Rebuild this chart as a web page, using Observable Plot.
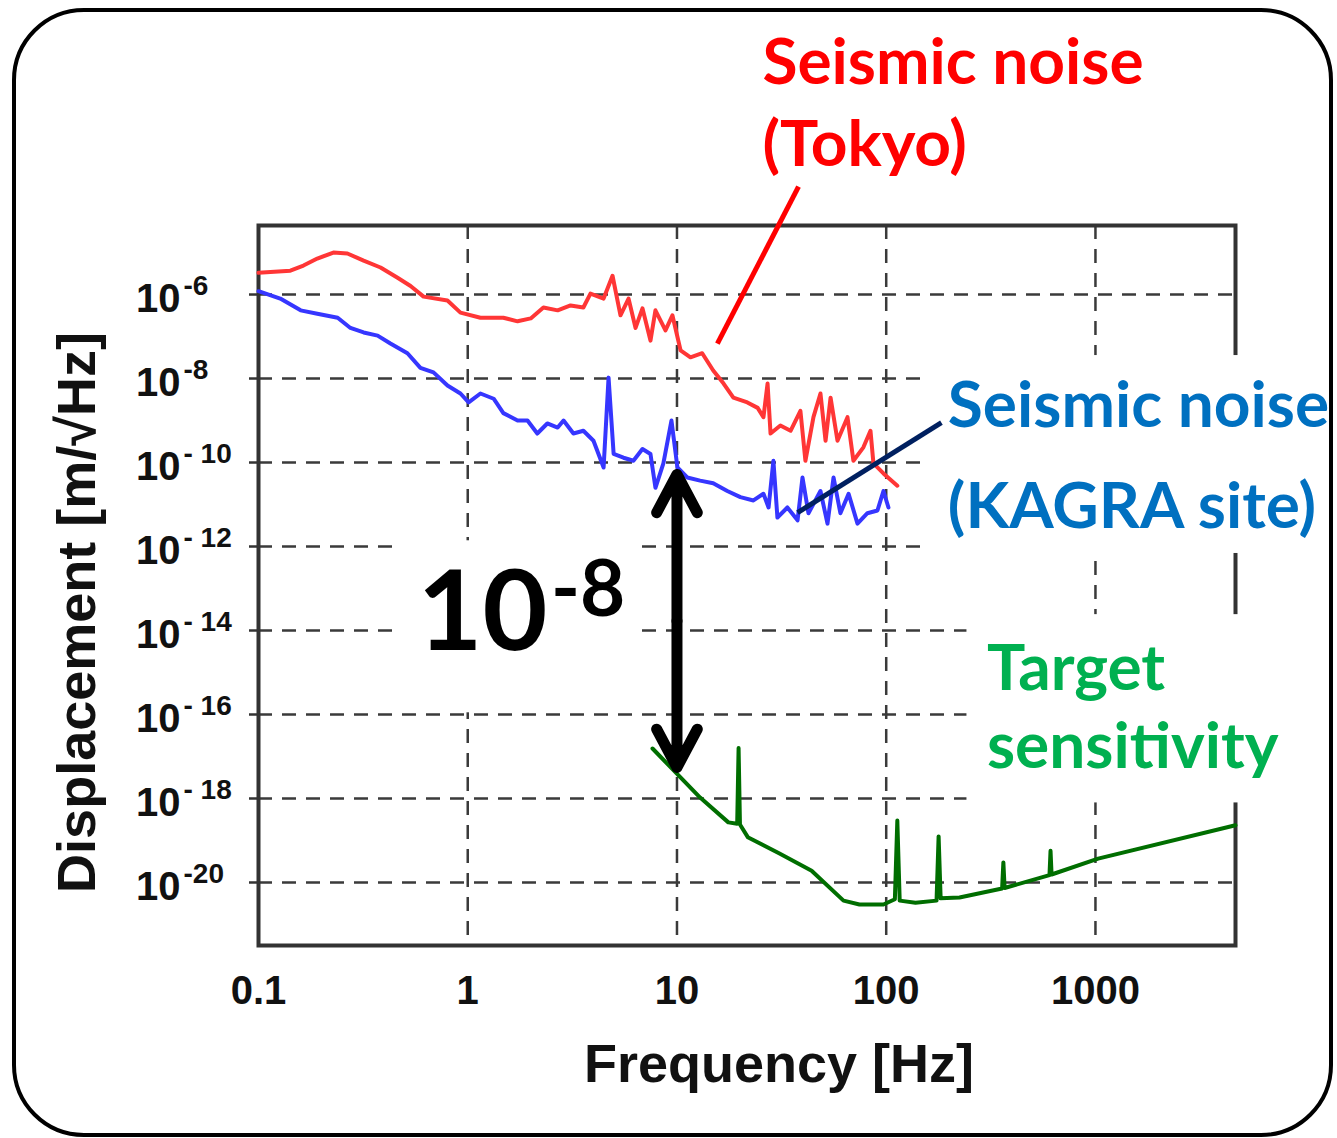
<!DOCTYPE html>
<html><head><meta charset="utf-8">
<script src="https://cdn.jsdelivr.net/npm/d3@7"></script>
<script src="https://cdn.jsdelivr.net/npm/@observablehq/plot@0.6"></script>
<style>
html,body{margin:0;padding:0;background:#fff;}
#wrap{position:relative;width:1337px;height:1138px;overflow:hidden;}
#border{position:absolute;left:12px;top:8px;width:1321px;height:1129px;box-sizing:border-box;border:4.5px solid #000;border-radius:72px;pointer-events:none;}
#chart{position:absolute;left:0;top:0;}
</style></head><body>
<div id="wrap"><div id="chart"></div><div id="border"></div></div>
<script>
// ---- axes ----
const xDomain = [0.1, 4670];
const yDomain = [3.16e-22, 4.4e-5];
const xTicks = [0.1, 1, 10, 100, 1000];
const xTickLabels = ["0.1", "1", "10", "100", "1000"];
const yTicks = [1e-6, 1e-8, 1e-10, 1e-12, 1e-14, 1e-16, 1e-18, 1e-20];
const yTickExponents = ["-6", "-8", "- 10", "- 12", "- 14", "- 16", "- 18", "-20"];

// ---- Seismic noise (Tokyo) ----
const tokyoFreq = [0.1, 0.142, 0.164, 0.191, 0.228, 0.266, 0.318, 0.383, 0.462, 0.533, 0.615, 0.80, 0.923, 1.15, 1.48, 1.73, 2.0, 2.30, 2.69, 3.10, 3.57, 3.86, 4.46, 4.92, 5.37, 5.87, 6.34, 6.84, 7.47, 7.89, 8.81, 9.51, 10.4, 11.6, 13.2, 14.9, 16.7, 18.6, 21.7, 24.3, 25.9, 27.1, 28.0, 31.2, 34.9, 38.9, 41.1, 44.9, 48.5, 51.3, 54.2, 58.5, 65.3, 69.7, 77.8, 84.1, 86.9, 97.0, 113];
const tokyoDisp = [3.3e-6, 3.7e-6, 4.9e-6, 7.2e-6, 1.0e-5, 9.5e-6, 6.4e-6, 4.4e-6, 2.5e-6, 1.6e-6, 8.9e-7, 7.2e-7, 3.7e-7, 2.8e-7, 2.8e-7, 2.3e-7, 2.7e-7, 4.9e-7, 4.2e-7, 5.5e-7, 4.9e-7, 1.05e-6, 8.0e-7, 2.8e-6, 3.2e-7, 8.0e-7, 1.6e-7, 4.7e-7, 8.0e-8, 4.2e-7, 1.4e-7, 3.2e-7, 4.7e-8, 3.2e-8, 4.0e-8, 1.55e-8, 7.6e-9, 3.5e-9, 2.7e-9, 2.0e-9, 1.2e-9, 7.6e-9, 4.9e-10, 7.6e-10, 5.7e-10, 1.7e-9, 1.1e-10, 1.2e-9, 4.4e-9, 3.3e-10, 3.5e-9, 3.3e-10, 1.2e-9, 1.1e-10, 2.3e-10, 5.7e-10, 9.5e-11, 5.5e-11, 2.8e-11];

// ---- Seismic noise (KAGRA site) ----
const kagraFreq = [0.1, 0.127, 0.159, 0.191, 0.239, 0.275, 0.318, 0.371, 0.427, 0.515, 0.594, 0.686, 0.80, 0.923, 1.01, 1.15, 1.33, 1.48, 1.73, 1.93, 2.15, 2.40, 2.69, 2.87, 3.20, 3.57, 3.99, 4.46, 4.71, 4.98, 5.55, 6.19, 6.84, 7.47, 7.89, 8.61, 9.41, 10.05, 11.2, 12.9, 14.9, 17.4, 20.1, 23.2, 25.9, 27.4, 28.9, 30.2, 33.7, 37.7, 39.8, 42.5, 48.5, 52.4, 56.0, 60.4, 66.1, 72.9, 81.3, 90.8, 97.0, 102.5];
const kagraDisp = [1.2e-6, 8.0e-7, 4.2e-7, 3.5e-7, 2.8e-7, 1.6e-7, 1.25e-7, 1.05e-7, 6.8e-8, 4.0e-8, 1.8e-8, 1.4e-8, 6.8e-9, 4.4e-9, 2.7e-9, 4.4e-9, 3.3e-9, 1.5e-9, 1.0e-9, 1.0e-9, 4.9e-10, 8.5e-10, 6.8e-10, 1.0e-9, 4.9e-10, 5.7e-10, 3.3e-10, 7.6e-11, 1.05e-8, 1.6e-10, 1.3e-10, 1.1e-10, 2.1e-10, 1.6e-10, 2.5e-11, 9.5e-11, 1.0e-9, 7.6e-11, 4.4e-11, 3.7e-11, 3.2e-11, 2.1e-11, 1.5e-11, 1.25e-11, 1.8e-11, 8.5e-12, 1.1e-10, 4.9e-12, 8.5e-12, 4.2e-12, 4.4e-11, 6.2e-12, 2.1e-11, 3.5e-12, 4.4e-11, 6.2e-12, 1.8e-11, 3.5e-12, 6.2e-12, 7.2e-12, 2.1e-11, 8.5e-12];

// ---- Target sensitivity ----
const targetFreq = [7.64, 10.2, 12.9, 17.6, 19.4, 19.7, 20.0, 21.8, 30.9, 44.0, 62.5, 74.5, 97, 110, 113, 116, 138, 174, 178, 182, 224, 358, 363, 368, 603, 610, 617, 1030, 4670];
const targetDisp = [1.55e-17, 3.5e-18, 1.05e-18, 2.7e-19, 2.5e-19, 1.6e-17, 2.4e-19, 1.2e-19, 4.9e-20, 1.9e-20, 3.7e-21, 3.0e-21, 3.0e-21, 4.0e-21, 3.0e-19, 3.7e-21, 3.3e-21, 3.7e-21, 1.25e-19, 4.2e-21, 4.4e-21, 7.2e-21, 3.0e-20, 7.4e-21, 1.5e-20, 5.7e-20, 1.55e-20, 3.7e-20, 2.3e-19];

// ---- annotations (data coordinates) ----
const tokyoLabel = [{text: "Seismic noise", freq: 25.6, disp: 0.31}, {text: "(Tokyo)", freq: 25.6, disp: 3.5e-3}];
const kagraLabel = [{text: "Seismic noise", freq: 197, disp: 2.15e-9}, {text: "(KAGRA site)", freq: 197, disp: 8.5e-12}];
const targetLabel = [{text: "Target", freq: 303, disp: 1.17e-15}, {text: "sensitivity", freq: 303, disp: 1.6e-17}];
const ratioBase = [{text: "10", freq: 0.575, disp: 2.5e-14}];
const ratioExp = [{text: "-8", freq: 2.5, disp: 8.9e-14}];
const tokyoPointer = [{freq1: 15.6, disp1: 6.8e-8, freq2: 38.1, disp2: 3.7e-4}];
const kagraPointer = [{freq1: 37.7, disp1: 6.4e-12, freq2: 183.6, disp2: 8.9e-10}];
const gapArrow = {freq: 10, upper: 5.2e-11, lower: 5.5e-18};

const tokyo = tokyoFreq.map((f, i) => ({freq: f, disp: tokyoDisp[i]}));
const kagra = kagraFreq.map((f, i) => ({freq: f, disp: kagraDisp[i]}));
const target = targetFreq.map((f, i) => ({freq: f, disp: targetDisp[i]}));
const gapMid = Math.sqrt(gapArrow.upper * gapArrow.lower);
const arrowParts = [{a: gapMid, b: gapArrow.upper}, {a: gapMid, b: gapArrow.lower}];
const boxOf = (lines) => [{x: lines[0].freq, y1: lines[0].disp, y2: lines[lines.length - 1].disp}];

const calibri = "Lato, 'Open Sans', sans-serif";
const arial = "'Liberation Sans', Arial, sans-serif";

const gridStyle = {stroke: "#3a3a3a", strokeWidth: 2.5, strokeDasharray: "14,10"};
const labelBase = {x: "freq", y: "disp", text: "text", textAnchor: "start", fontFamily: calibri, fontWeight: "bold"};
const boxBase = {x1: "x", x2: "x", y1: "y1", y2: "y2", fill: "white"};

const chart = Plot.plot({
  width: 1337, height: 1138,
  marginLeft: 258, marginRight: 102, marginTop: 225, marginBottom: 193,
  style: {background: "transparent", overflow: "visible"},
  x: {type: "log", domain: xDomain, axis: null},
  y: {type: "log", domain: yDomain, axis: null},
  marks: [
    Plot.ruleY(yTicks, {y: d => d, ...gridStyle}),
    Plot.ruleX(xTicks, {x: d => d, ...gridStyle}),
    Plot.frame({stroke: "#333", strokeWidth: 4}),
    // small outward ticks on the left edge
    Plot.ruleY(yTicks, {y: d => d, x1: () => xDomain[0], x2: () => xDomain[0], insetLeft: -9, stroke: "#333", strokeWidth: 2.5}),
    // white text boxes of the annotations
    Plot.rect(boxOf(ratioBase), {...boxBase, insetLeft: -22, insetRight: -220, insetTop: -73, insetBottom: -99}),
    Plot.rect(boxOf(kagraLabel), {...boxBase, insetLeft: -18, insetRight: -395, insetTop: -51, insetBottom: -46}),
    Plot.rect(boxOf(targetLabel), {...boxBase, insetLeft: -20, insetRight: -305, insetTop: -55, insetBottom: -55}),
    // annotation texts
    Plot.text(ratioBase, {...labelBase, fontSize: 112, fill: "black"}),
    Plot.text(ratioExp, {...labelBase, fontSize: 78, fill: "black"}),
    Plot.text(kagraLabel, {...labelBase, fontSize: 64, fill: "#0070c0"}),
    Plot.text(targetLabel, {...labelBase, fontSize: 64, fill: "#00b050"}),
    Plot.text(tokyoLabel, {...labelBase, fontSize: 64, fill: "#ff0000"}),
    // curves
    Plot.line(tokyo, {x: "freq", y: "disp", stroke: "#ff3636", strokeWidth: 4}),
    Plot.line(kagra, {x: "freq", y: "disp", stroke: "#3636ff", strokeWidth: 4}),
    Plot.line(target, {x: "freq", y: "disp", stroke: "#006e00", strokeWidth: 4}),
    // pointers
    Plot.link(tokyoPointer, {x1: "freq1", y1: "disp1", x2: "freq2", y2: "disp2", stroke: "#ff0000", strokeWidth: 5}),
    Plot.link(kagraPointer, {x1: "freq1", y1: "disp1", x2: "freq2", y2: "disp2", stroke: "#002060", strokeWidth: 5}),
    Plot.arrow(arrowParts, {x1: () => gapArrow.freq, x2: () => gapArrow.freq, y1: "a", y2: "b", stroke: "black", strokeWidth: 11, headLength: 5.9, headAngle: 56, strokeLinecap: "round", strokeLinejoin: "round"}),
    // tick labels
    Plot.text(xTicks, {x: d => d, text: (d, i) => xTickLabels[i], frameAnchor: "bottom", lineAnchor: "top", dy: 30, fontFamily: arial, fontWeight: "bold", fontSize: 40, fill: "#111"}),
    Plot.text(yTicks, {y: d => d, text: () => "10", frameAnchor: "left", textAnchor: "end", dx: -78, dy: 5, fontFamily: arial, fontWeight: "bold", fontSize: 40, fill: "#111"}),
    Plot.text(yTicks, {y: d => d, text: (d, i) => yTickExponents[i], frameAnchor: "left", textAnchor: "start", dx: -75, dy: -8, fontFamily: arial, fontWeight: "bold", fontSize: 28, fill: "#111"}),
    // axis titles
    Plot.text(["Frequency [Hz]"], {frameAnchor: "bottom", textAnchor: "middle", lineAnchor: "top", dy: 98, dx: 32, fontFamily: arial, fontWeight: "bold", fontSize: 54, fill: "#111"}),
    Plot.text(["Displacement [m/\u221AHz]"], {frameAnchor: "left", textAnchor: "middle", rotate: -90, dx: -181, dy: 27, fontFamily: arial, fontWeight: "bold", fontSize: 54, fill: "#111"})
  ]
});
document.getElementById("chart").appendChild(chart);
</script></body></html>
